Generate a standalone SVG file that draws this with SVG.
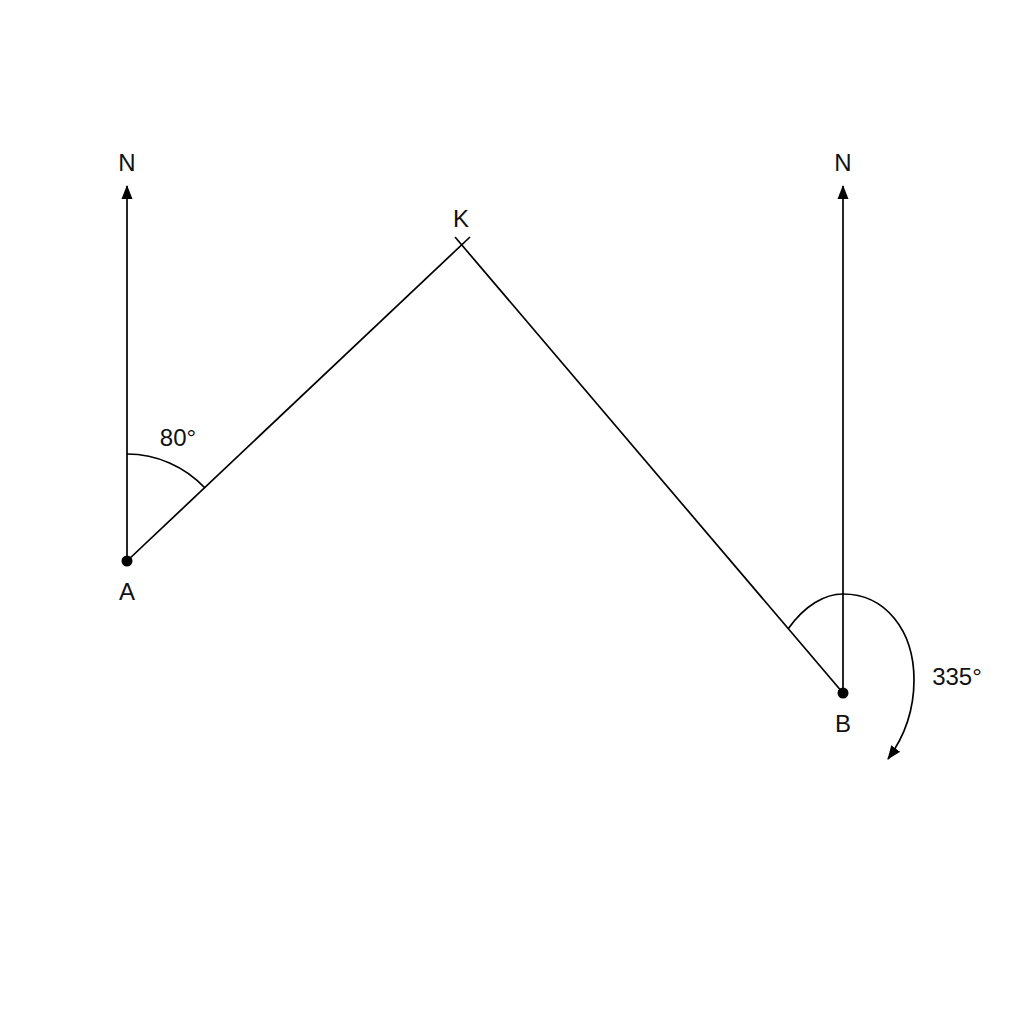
<svg xmlns="http://www.w3.org/2000/svg" width="1024" height="1024" viewBox="0 0 1024 1024">
<style>
.ln{stroke:#000;stroke-width:1.7;fill:none}
.t{font-family:"Liberation Sans",Arial,sans-serif;font-size:24px;fill:#111;text-anchor:middle}
</style>
<defs>
<marker id="ah" markerWidth="16" markerHeight="16" refX="13" refY="5.5" orient="auto" markerUnits="userSpaceOnUse" viewBox="0 0 16 11">
<path d="M0,0 L14,5.5 L0,11 Z" fill="#000"/>
</marker>
</defs>
<rect width="1024" height="1024" fill="#fff"/>
<g id="connectors">
<line class="ln" x1="127" y1="561" x2="127" y2="186" marker-end="url(#ah)"/>
<line class="ln" x1="843" y1="693" x2="843" y2="186" marker-end="url(#ah)"/>
<line class="ln" x1="127" y1="561" x2="470" y2="237"/>
<line class="ln" x1="455" y1="237" x2="843" y2="693"/>
<path class="ln" d="M127,454 A107,107 0 0 1 205,488"/>
<path class="ln" d="M788,629 C805,605 825,594 843,594 C885,594 914,630 914,680 C914,715 902,740 888,759" marker-end="url(#ah)"/>
</g>
<g id="A"><circle cx="127" cy="561" r="5.5" fill="#000"/><text class="t" x="127" y="600">A</text></g>
<g id="B"><circle cx="843" cy="693" r="5.5" fill="#000"/><text class="t" x="843" y="732">B</text></g>
<g id="K"><text class="t" x="461" y="227">K</text></g>
<g id="NA"><text class="t" x="127" y="171">N</text></g>
<g id="NB"><text class="t" x="843" y="171">N</text></g>
<g id="labels">
<text class="t" x="178" y="446">80°</text>
<text class="t" x="957" y="685">335°</text>
</g>
</svg>
